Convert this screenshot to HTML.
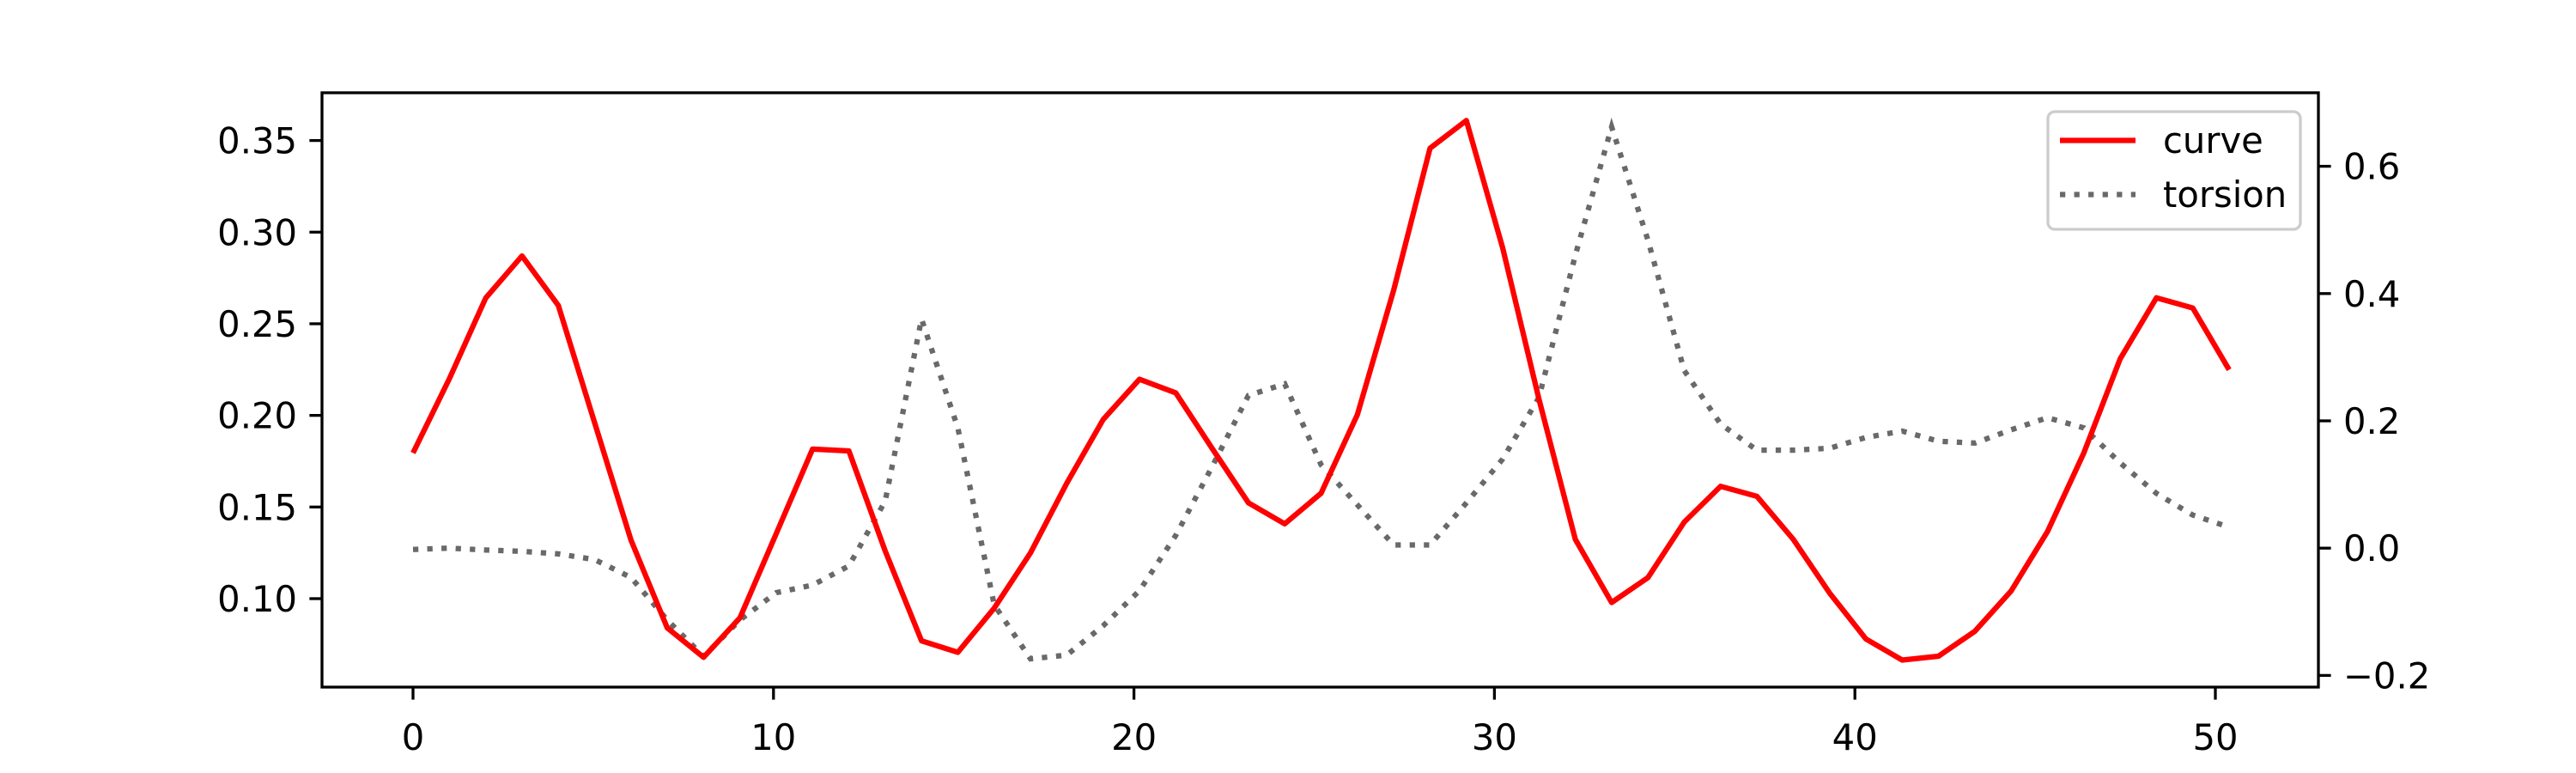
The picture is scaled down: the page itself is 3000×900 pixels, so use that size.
<!DOCTYPE html>
<html><head><meta charset="utf-8"><style>
html,body{margin:0;padding:0;background:#fff;}
svg{display:block;font-family:"DejaVu Sans","Liberation Sans",sans-serif;}
</style></head><body>
<svg id="chart" width="3000" height="900" viewBox="0 0 3000 900" xmlns="http://www.w3.org/2000/svg">
<rect x="0" y="0" width="3000" height="900" fill="#fff"/>
<g id="plot"></g>
<g id="axes"></g>
<g id="legend">
  <rect x="2385" y="130" width="294" height="137" rx="8" fill="#fff" fill-opacity="0.8" stroke="#cccccc" stroke-width="3.3"/>
  <line x1="2399" y1="163.5" x2="2487" y2="163.5" stroke="#ff0000" stroke-width="6.25"/>
  <text x="2519" y="178" font-size="41.7">curve</text>
  <line x1="2399" y1="226.5" x2="2487" y2="226.5" stroke="#696969" stroke-width="6.25" stroke-dasharray="6.25 10.3"/>
  <text x="2519" y="241" font-size="41.7">torsion</text>
</g>
</svg>
<script>
const curveValues = [0.1795,0.220,0.264,0.287,0.260,0.196,0.132,0.084,0.068,0.0895,0.1355,0.1816,0.1806,0.126,0.077,0.0707,0.0948,0.125,0.163,0.1977,0.2197,0.2123,0.182,0.1523,0.1408,0.1575,0.2004,0.2684,0.3458,0.3609,0.2914,0.2088,0.1324,0.0979,0.1115,0.1418,0.1613,0.1558,0.1324,0.1031,0.078,0.0665,0.0686,0.0822,0.1042,0.1366,0.1795,0.2308,0.2642,0.2586,0.2249];
const torsionValues = [-0.002,0.0,-0.003,-0.005,-0.009,-0.018,-0.046,-0.113,-0.170,-0.113,-0.070,-0.058,-0.028,0.074,0.360,0.189,-0.089,-0.174,-0.168,-0.122,-0.067,0.020,0.128,0.240,0.258,0.131,0.068,0.005,0.005,0.071,0.140,0.237,0.460,0.662,0.484,0.279,0.195,0.154,0.154,0.157,0.174,0.184,0.168,0.165,0.186,0.205,0.189,0.134,0.086,0.052,0.033];
const xStep = 1.0076;
const xTicks = [0,10,20,30,40,50];
const leftTicks = [0.10,0.15,0.20,0.25,0.30,0.35];
const leftTickLabels = ["0.10","0.15","0.20","0.25","0.30","0.35"];
const rightTicks = [-0.2,0.0,0.2,0.4,0.6];
const rightTickLabels = ["\u22120.2","0.0","0.2","0.4","0.6"];

const L=375,R=2700,T=108,B=800;
const xs = v => 481 + (v)*41.98;
const yl = v => 697 - (v-0.10)*2133.6;
const yr = v => 638.2 - v*741;
const NS="http://www.w3.org/2000/svg";
function mk(tag, attrs, parent){const e=document.createElementNS(NS,tag);for(const k in attrs)e.setAttribute(k,attrs[k]);parent.appendChild(e);return e;}
const plot=document.getElementById('plot'), axes=document.getElementById('axes');

const tp=torsionValues.map((v,i)=>xs(i*xStep).toFixed(1)+','+yr(v).toFixed(1)).join(' ');
const tl=mk('polyline',{points:tp,fill:'none',stroke:'#696969','stroke-width':6.25,'stroke-dasharray':'6.25 10.3'},plot);


const cp=curveValues.map((v,i)=>xs(i*xStep).toFixed(1)+','+yl(v).toFixed(1)).join(' ');
const cl=mk('polyline',{points:cp,fill:'none',stroke:'#ff0000','stroke-width':6.25,'stroke-linejoin':'round'},plot);



const fr=mk('rect',{x:L,y:T,width:R-L,height:B-T,fill:'none',stroke:'#000','stroke-width':3.3},axes);



xTicks.forEach(v=>{
  const x=xs(v);
  const t=mk('line',{x1:x,y1:B,x2:x,y2:B+14.6,stroke:'#000','stroke-width':3.3},axes);
  
  
  const lb=mk('text',{x:x,y:B+73,'font-size':41.7,'text-anchor':'middle'},axes);
  lb.textContent=String(v);
  
  
});
leftTicks.forEach((v,i)=>{
  const y=yl(v);
  const t=mk('line',{x1:L-14.6,y1:y,x2:L,y2:y,stroke:'#000','stroke-width':3.3},axes);
  
  
  const lb=mk('text',{x:L-29,y:y+15,'font-size':41.7,'text-anchor':'end'},axes);
  lb.textContent=leftTickLabels[i];
  
  
});
rightTicks.forEach((v,i)=>{
  const y=yr(v);
  const t=mk('line',{x1:R,y1:y,x2:R+14.6,y2:y,stroke:'#000','stroke-width':3.3},axes);
  
  
  const lb=mk('text',{x:R+29,y:y+15,'font-size':41.7,'text-anchor':'start'},axes);
  lb.textContent=rightTickLabels[i];
  
  
});
</script>
</body></html>
